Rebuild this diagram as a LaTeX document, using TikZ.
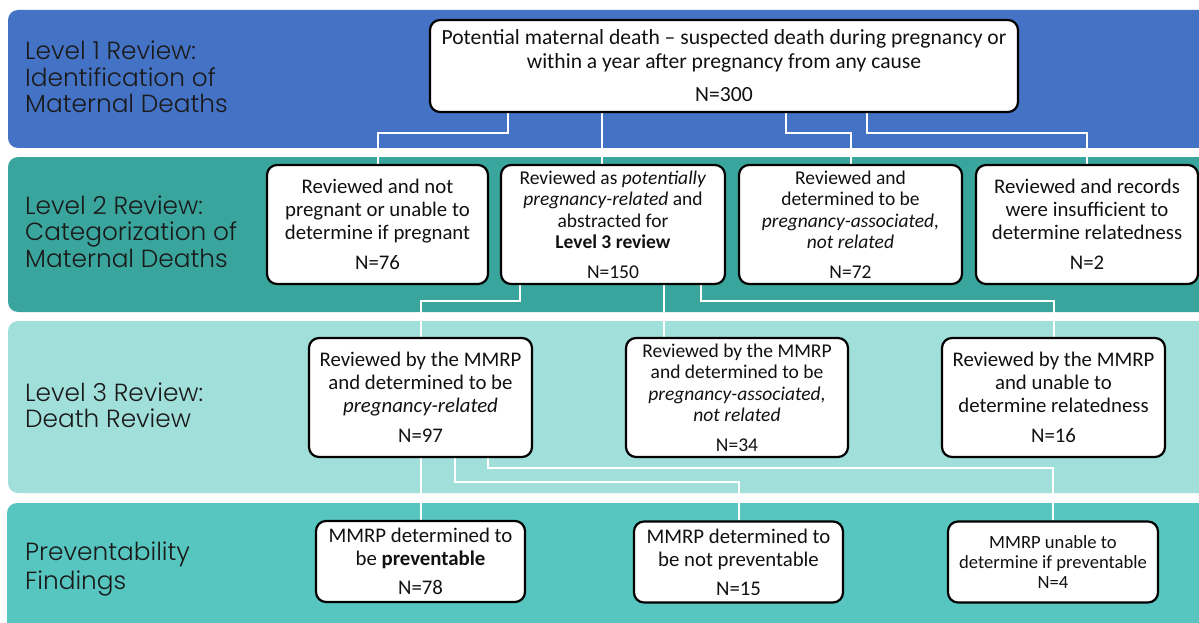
\documentclass[tikz,border=0pt]{standalone}
\usepackage{fontspec}
\usetikzlibrary{backgrounds}
\setmainfont{Carlito}
\newfontfamily\gothic{Poppins Light}
\definecolor{bandA}{HTML}{4472C4}
\definecolor{bandB}{HTML}{3AA59D}
\definecolor{bandC}{HTML}{A1DFDB}
\definecolor{bandD}{HTML}{57C6C0}
\definecolor{labcol}{HTML}{1A1A1A}
\definecolor{boxtext}{HTML}{111111}
\begin{document}
\begin{tikzpicture}[x=1pt,y=-1pt,
  lab/.style={font=\gothic\fontsize{24.8}{26}\selectfont, text=labcol, inner sep=0pt, anchor=base west},
  box/.style={draw=black, line width=2.2pt, rounded corners=10pt, fill=white, align=center,
    inner sep=0pt, text=boxtext, font=\fontsize{20.8}{23}\selectfont},
  boxtop/.style={box, font=\fontsize{21.6}{24}\selectfont},
  boxfour/.style={box, font=\fontsize{19.5}{21.5}\selectfont},
  boxsmall/.style={box, font=\fontsize{18.6}{20}\selectfont},
  conn/.style={draw=white, line width=2pt}]
\useasboundingbox (0,0) rectangle (1199,623);
\clip (0,0) rectangle (1199,623);
% left labels
\node[lab] (l1a) at (25,60) {Level 1 Review:};
\node[lab] (l1b) at (25,86.5) {Identification of};
\node[lab] (l1c) at (25,113) {Maternal Deaths};
\node[lab] (l2a) at (25,214) {Level 2 Review:};
\node[lab] (l2b) at (25,240.5) {Categorization of};
\node[lab] (l2c) at (25,267) {Maternal Deaths};
\node[lab] (l3a) at (25,401) {Level 3 Review:};
\node[lab] (l3b) at (25,427.5) {Death Review};
\node[lab] (l4a) at (25,560) {Preventability};
\node[lab] (l4b) at (25,589) {Findings};
% connector bends
\coordinate (c1) at (508,133);
\coordinate (c2) at (602,133);
\coordinate (c3) at (786,133);
\coordinate (c3b) at (867,133);
\coordinate (c4) at (520,301);
\coordinate (c5) at (664,301);
\coordinate (c6) at (701,301);
\coordinate (c8) at (455,482);
\coordinate (c9) at (488,468);
% boxes
\node[boxtop, minimum width=588pt, minimum height=92pt] (B0) at (724,66)
  {Potential maternal death – suspected death during pregnancy or\\within a year after pregnancy from any cause\\[9pt]N=300};
\node[box, minimum width=221pt, minimum height=119pt] (A) at (377.5,224.5)
  {Reviewed and not\\pregnant or unable to\\determine if pregnant\\[7pt]N=76};
\node[boxfour, minimum width=224pt, minimum height=119pt] (B) at (613,224.5)
  {Reviewed as \textit{potentially}\\\textit{pregnancy-related} and\\abstracted for\\\textbf{Level 3 review}\\[8pt]N=150};
\node[boxfour, minimum width=223pt, minimum height=119pt] (C) at (850.5,224.5)
  {Reviewed and\\determined to be\\\textit{pregnancy-associated,}\\\textit{not related}\\[8pt]N=72};
\node[box, minimum width=222pt, minimum height=119pt] (D) at (1087,224.5)
  {Reviewed and records\\were insufficient to\\determine relatedness\\[7pt]N=2};
\node[box, minimum width=223pt, minimum height=119pt] (E) at (420.5,397.5)
  {Reviewed by the MMRP\\and determined to be\\\textit{pregnancy-related}\\[7pt]N=97};
\node[boxfour, minimum width=222pt, minimum height=119pt] (F) at (737,397.5)
  {Reviewed by the MMRP\\and determined to be\\\textit{pregnancy-associated,}\\\textit{not related}\\[8pt]N=34};
\node[box, minimum width=223pt, minimum height=119pt] (G) at (1053.5,397.5)
  {Reviewed by the MMRP\\and unable to\\determine relatedness\\[7pt]N=16};
\node[box, minimum width=209pt, minimum height=81pt] (H) at (420.5,561.5)
  {MMRP determined to\\be \textbf{preventable}\\[6pt]N=78};
\node[box, minimum width=209pt, minimum height=81pt] (I) at (738.5,562)
  {MMRP determined to\\be not preventable\\[6pt]N=15};
\node[boxsmall, minimum width=210pt, minimum height=81pt] (J) at (1053,562)
  {MMRP unable to\\determine if preventable\\N=4};
\begin{pgfonlayer}{background}
\fill[white] (0,0) rectangle (1199,623);
% bands
\fill[bandA, rounded corners=10pt] (8,10) rectangle (1220,148);
\fill[bandB, rounded corners=10pt] (8,157) rectangle (1220,312);
\fill[bandC, rounded corners=10pt] (8,321) rectangle (1220,493);
\fill[bandD, rounded corners=10pt] (7,503) rectangle (1220,650);
% connectors
\draw[conn] (B0.south -| c1) -- (c1) -| (A.north);
\draw[conn] (B0.south -| c2) -- (B.north -| c2);
\draw[conn] (B0.south -| c3) -- (c3) -| (C.north);
\draw[conn] (B0.south -| c3b) -- (c3b) -| (D.north);
\draw[conn] (B.south -| c4) -- (c4) -| (E.north);
\draw[conn] (B.south -| c5) -- (F.north -| c5);
\draw[conn] (B.south -| c6) -- (c6) -| (G.north);
\draw[conn] (E.south -| H.north) -- (H.north);
\draw[conn] (E.south -| c8) -- (c8) -| (I.north);
\draw[conn] (E.south -| c9) -- (c9) -| (J.north);
\end{pgfonlayer}
\end{tikzpicture}
\end{document}
